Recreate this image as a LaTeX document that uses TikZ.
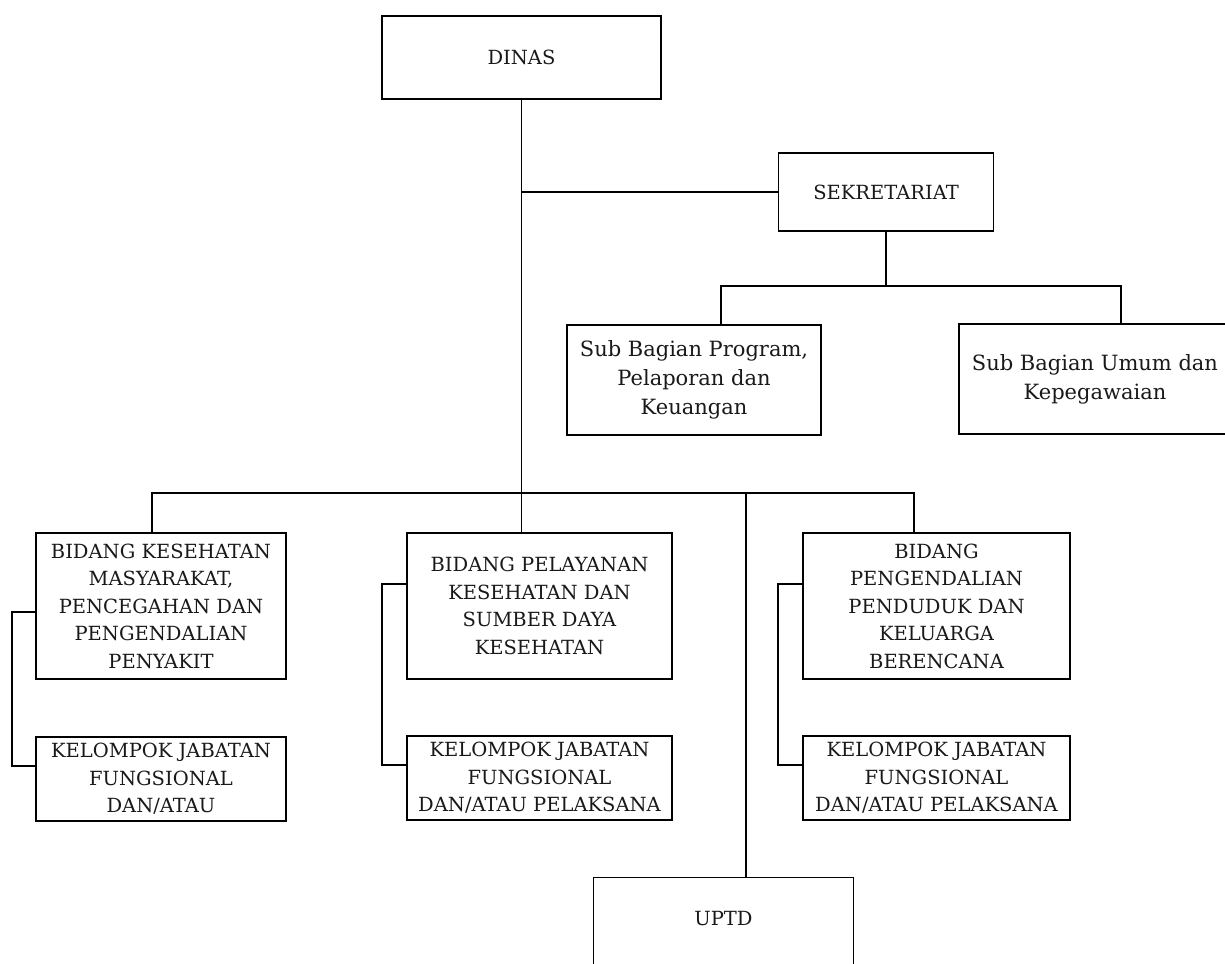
\documentclass[tikz,border=0pt]{standalone}
\usepackage{fontspec}
\setmainfont{DejaVu Serif}
\begin{document}
\begin{tikzpicture}[x=1pt,y=-1pt,
  box/.style={draw=black, line width=1.2pt, align=center, inner sep=2pt,
    font=\fontsize{19.5}{27.5}\selectfont, text=black!90},
  subbox/.style={box, font=\fontsize{21}{29}\selectfont},
  conn/.style={draw=black, line width=1.2pt}]
\path[use as bounding box, clip] (0,0) rectangle (1225,963);
\fill[white] (0,0) rectangle (1225,963);
% boxes
\node[box, minimum width=279pt, minimum height=83pt] (dinas) at (521.5,57.5) {DINAS};
\node[box, minimum width=215pt, minimum height=78pt] (sek) at (886,192) {SEKRETARIAT};
\node[subbox, minimum width=254pt, minimum height=110pt] (sub1) at (694,380) {Sub Bagian Program,\\Pelaporan dan\\Keuangan};
\node[subbox, minimum width=272pt, minimum height=110pt] (sub2) at (1095,379) {Sub Bagian Umum dan\\Kepegawaian};
\node[box, minimum width=250pt, minimum height=146pt] (bid1) at (161,606) {BIDANG KESEHATAN\\MASYARAKAT,\\PENCEGAHAN DAN\\PENGENDALIAN\\PENYAKIT};
\node[box, minimum width=265pt, minimum height=146pt] (bid2) at (539.5,606) {BIDANG PELAYANAN\\KESEHATAN DAN\\SUMBER DAYA\\KESEHATAN};
\node[box, minimum width=267pt, minimum height=146pt] (bid3) at (936.5,606) {BIDANG\\PENGENDALIAN\\PENDUDUK DAN\\KELUARGA\\BERENCANA};
\node[box, minimum width=250pt, minimum height=84pt] (kjf1) at (161,779) {KELOMPOK JABATAN\\FUNGSIONAL\\DAN/ATAU};
\node[box, minimum width=265pt, minimum height=84pt] (kjf2) at (539.5,778) {KELOMPOK JABATAN\\FUNGSIONAL\\DAN/ATAU PELAKSANA};
\node[box, minimum width=267pt, minimum height=84pt] (kjf3) at (936.5,778) {KELOMPOK JABATAN\\FUNGSIONAL\\DAN/ATAU PELAKSANA};
\node[box, minimum width=260pt, minimum height=120pt, anchor=north] (uptd) at (723.5,877) {};
\node[font=\fontsize{19.5}{27.5}\selectfont, text=black!90] (uptdt) at (723.5,919) {UPTD};
% coordinates
\coordinate (s1) at (721,286);
\coordinate (s2) at (1121,286);
\coordinate (b1) at (152,493);
\coordinate (b3) at (914,493);
\coordinate (bu) at (746,493);
\coordinate (l1a) at (12,612);
\coordinate (l1b) at (12,766);
\coordinate (l2a) at (382,584);
\coordinate (l2b) at (382,765);
\coordinate (l3a) at (778,584);
\coordinate (l3b) at (778,765);
% connectors
\draw[conn] (dinas.south) -- (dinas.south |- bid2.north);
\draw[conn] (sek.west) -- (sek.west -| dinas.south);
\draw[conn] (sek.south) -- (sek.south |- s1);
\draw[conn] (s1 |- sub1.north) -- (s1) -- (s2) -- (s2 |- sub2.north);
\draw[conn] (b1 |- bid1.north) -- (b1) -- (b3) -- (b3 |- bid3.north);
\draw[conn] (bu) -- (bu |- uptd.north);
\draw[conn] (l1a -| bid1.west) -- (l1a) -- (l1b) -- (l1b -| kjf1.west);
\draw[conn] (l2a -| bid2.west) -- (l2a) -- (l2b) -- (l2b -| kjf2.west);
\draw[conn] (l3a -| bid3.west) -- (l3a) -- (l3b) -- (l3b -| kjf3.west);
\end{tikzpicture}
\end{document}
